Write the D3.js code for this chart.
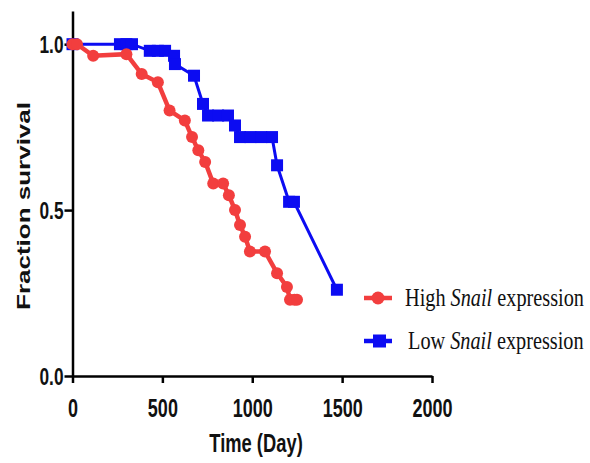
<!DOCTYPE html>
<html>
<head>
<meta charset="utf-8">
<script src="https://cdn.jsdelivr.net/npm/d3@7"></script>
<style>
  body { margin: 0; background: #fff; }
  svg { display: block; }
</style>
</head>
<body>
<script>
const W = 590, H = 463
const margin = { top: 11, right: 158, bottom: 87, left: 72.5 }
    , width = W - margin.left - margin.right   // plot area width
    , height = H - margin.top - margin.bottom  // plot area height

// survival data
const highDays = [0, 25, 115, 300, 385, 475, 540, 625, 665, 700, 738, 783, 838, 870, 904, 932, 960, 987, 1071, 1138, 1193, 1210, 1235, 1249]
const highSurv = [1.0, 1.0, 0.965, 0.97, 0.91, 0.885, 0.80, 0.77, 0.72, 0.68, 0.645, 0.58, 0.58, 0.545, 0.50, 0.455, 0.42, 0.375, 0.375, 0.31, 0.268, 0.23, 0.23, 0.23]
const lowDays = [0, 264, 300, 331, 430, 475, 515, 565, 570, 676, 726, 754, 810, 865, 904, 932, 990, 1050, 1110, 1138, 1205, 1232, 1471]
const lowSurv = [1.0, 1.0, 1.0, 1.0, 0.98, 0.98, 0.98, 0.965, 0.94, 0.905, 0.82, 0.785, 0.785, 0.785, 0.755, 0.72, 0.72, 0.72, 0.72, 0.635, 0.525, 0.525, 0.26]

const xTicks = [0, 500, 1000, 1500, 2000]
const yTicks = [0, 0.5, 1.0]
const seriesNames = ['High', 'Low']

const red = '#f23e3e', blue = '#0c0cf2'
const squash = 'scale(0.72,1)' // the picture is squeezed sideways

const svg = d3.select('body').append('svg')
    .attr('width', W)
    .attr('height', H)

const xScale = d3.scaleLinear()
    .domain([0, 2000])
    .range([margin.left, margin.left + width])

const yScale = d3.scaleLinear()
    .domain([0, 1.1])
    .range([margin.top + height, margin.top])

// x axis
const xAxis = svg.append('g')
    .attr('transform', 'translate(0,' + (margin.top + height) + ')')
    .call(d3.axisBottom(xScale).tickValues(xTicks).tickSize(7).tickSizeOuter(0).tickFormat(d3.format('d')))
xAxis.select('.domain').attr('stroke-width', 2.5)
xAxis.selectAll('.tick line').attr('stroke-width', 2.5)
xAxis.selectAll('.tick text')
    .attr('y', 0).attr('dy', 0)
    .attr('transform', 'translate(0,41) ' + squash)
    .style('font-family', 'Liberation Sans, Arial, sans-serif')
    .style('font-weight', 'bold')
    .style('font-size', '25px')
    .attr('fill', '#111')

// y axis
const yAxis = svg.append('g')
    .attr('transform', 'translate(' + margin.left + ',0)')
    .call(d3.axisLeft(yScale).tickValues(yTicks).tickSize(8).tickSizeOuter(0).tickFormat(d3.format('.1f')))
yAxis.select('.domain').attr('stroke-width', 2.5)
yAxis.selectAll('.tick line').attr('stroke-width', 2.5)
yAxis.selectAll('.tick text')
    .attr('x', 0).attr('dy', '0.36em')
    .attr('transform', 'translate(-9,0) ' + squash)
    .style('font-family', 'Liberation Sans, Arial, sans-serif')
    .style('font-weight', 'bold')
    .style('font-size', '24px')
    .attr('fill', '#111')

// axis titles
svg.append('text')
    .attr('transform', 'translate(256,452) ' + squash)
    .attr('text-anchor', 'middle')
    .style('font-family', 'Liberation Sans, Arial, sans-serif')
    .style('font-weight', 'bold')
    .style('font-size', '25.5px')
    .attr('fill', '#111')
    .text('Time (Day)')

svg.append('text')
    .attr('transform', 'translate(30,206) ' + squash + ' rotate(-90)')
    .attr('text-anchor', 'middle')
    .style('font-family', 'Liberation Sans, Arial, sans-serif')
    .style('font-weight', 'bold')
    .style('font-size', '26px')
    .attr('fill', '#111')
    .text('Fraction survival')

// line generator
const line = d3.line()
    .x(d => xScale(d[0]))
    .y(d => yScale(d[1]))

const highData = highDays.map((d, i) => [d, highSurv[i]])
const lowData = lowDays.map((d, i) => [d, lowSurv[i]])

// low expression: blue squares
svg.append('path')
    .datum(lowData)
    .attr('d', line)
    .attr('fill', 'none')
    .attr('stroke', blue)
    .attr('stroke-width', 3)

svg.selectAll('.sq').data(lowData)
    .enter()
    .append('rect')
    .attr('x', d => xScale(d[0]) - 6)
    .attr('y', d => yScale(d[1]) - 6)
    .attr('width', 12)
    .attr('height', 12)
    .attr('fill', blue)

// high expression: red circles
svg.append('path')
    .datum(highData)
    .attr('d', line)
    .attr('fill', 'none')
    .attr('stroke', red)
    .attr('stroke-width', 4.5)

svg.selectAll('.dot').data(highData)
    .enter()
    .append('circle')
    .attr('cx', d => xScale(d[0]))
    .attr('cy', d => yScale(d[1]))
    .attr('r', 6)
    .attr('fill', red)

// legend
const legend = svg.selectAll('.legend').data(seriesNames)
    .enter()
    .append('g')
    .attr('transform', (d, i) => 'translate(0,' + (298 + i * 43) + ')')

legend.append('line')
    .attr('x1', 364).attr('x2', 392)
    .attr('stroke', (d, i) => i ? blue : red)
    .attr('stroke-width', 4.5)

legend.filter((d, i) => i == 0).append('circle')
    .attr('cx', 378).attr('r', 6.5)
    .attr('fill', red)

legend.filter((d, i) => i == 1).append('rect')
    .attr('x', 373).attr('y', -6.5)
    .attr('width', 13).attr('height', 13)
    .attr('fill', blue)

const lt = legend.append('text')
    .attr('transform', (d, i) => 'translate(' + (i ? 408 : 405) + ',8) scale(0.78,1)')
    .style('font-family', 'Liberation Serif, Times New Roman, serif')
    .style('font-size', '26px')
    .attr('fill', '#111')
lt.append('tspan').text(d => d + ' ')
lt.append('tspan').style('font-style', 'italic').text('Snail')
lt.append('tspan').text(' expression')
</script>
</body>
</html>
